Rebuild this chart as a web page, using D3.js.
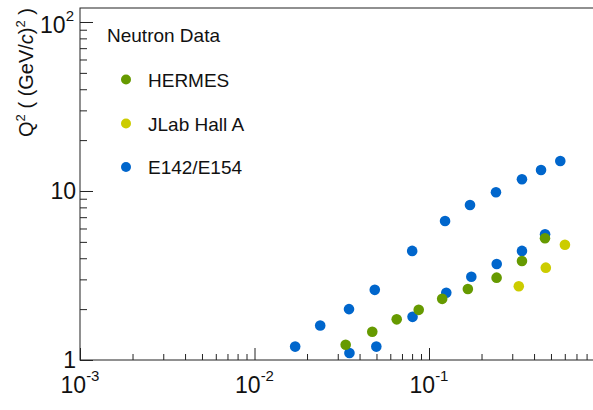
<!DOCTYPE html>
<html>
<head>
<meta charset="utf-8">
<script src="https://cdn.jsdelivr.net/npm/d3@7"></script>
<style>
  body { margin: 0; background: #fff; }
  svg { font-family: "Liberation Sans", Arial, sans-serif; }
</style>
</head>
<body>
<div id="chart"></div>
<script>
// series (x, Q^2)
var hermesX = [0.0333, 0.0473, 0.0653, 0.0873, 0.119, 0.167, 0.244, 0.341, 0.462];
var hermesY = [1.23, 1.47, 1.74, 1.98, 2.30, 2.63, 3.07, 3.85, 5.25];

var jlabX = [0.327, 0.467, 0.601];
var jlabY = [2.73, 3.52, 4.81];

var e142X = [0.0171, 0.0238, 0.0348, 0.0489, 0.0801, 0.1236, 0.1718, 0.242, 0.341, 0.4385, 0.5655,
             0.0350, 0.0499, 0.0805, 0.1256, 0.1748, 0.2444, 0.341, 0.4624];
var e142Y = [1.20, 1.60, 2.00, 2.60, 4.42, 6.65, 8.26, 9.83, 11.73, 13.31, 15.05,
             1.10, 1.20, 1.80, 2.50, 3.11, 3.70, 4.42, 5.54];

var seriesNames = ["HERMES", "JLab Hall A", "E142/E154"];
var seriesColors = ["#669a00", "#cccc00", "#0066cc"];

var xTickExp = [-3, -2, -1];
var yTickLabels = [["1", ""], ["10", ""], ["10", "2"]];

var W = 593, H = 410;

var svg = d3.select('#chart').append('svg')
    .attr('width', W)
    .attr('height', H);

var x = d3.scaleLog().domain([1e-3, 1]).range([80, 603.5]);
var y = d3.scaleLog().domain([1, 121]).range([360, 8]);

// frame
svg.append('rect')
    .attr('x', 80).attr('y', 8)
    .attr('width', 523.5).attr('height', 352)
    .style('fill', 'none')
    .style('stroke', '#222')
    .style('stroke-width', 1);

// x axis ticks (inside)
var xAxis = svg.append('g')
    .attr('transform', 'translate(0,360)')
    .call(d3.axisBottom(x).tickValues(x.ticks()).tickSize(-6).tickFormat(''));
xAxis.select('.domain').remove();
xAxis.selectAll('.tick line')
    .attr('y2', function(d) { return Math.abs(Math.log10(d) % 1) < 1e-9 ? -12 : -6; })
    .style('stroke', '#222');

// y axis ticks (inside)
var yAxis = svg.append('g')
    .attr('transform', 'translate(80,0)')
    .call(d3.axisLeft(y).tickValues(y.ticks()).tickSize(-7).tickFormat(''));
yAxis.select('.domain').remove();
yAxis.selectAll('.tick line')
    .attr('x2', function(d) { return Math.abs(Math.log10(d) % 1) < 1e-9 ? 13 : 7; })
    .style('stroke', '#222');

// x tick labels 10^n
xTickExp.forEach(function(e) {
    var t = svg.append('text')
        .attr('x', x(Math.pow(10, e)))
        .attr('y', 393)
        .attr('text-anchor', 'middle')
        .style('font-size', '23px')
        .style('fill', '#111');
    t.append('tspan').text('10');
    t.append('tspan')
        .attr('dy', -12)
        .style('font-size', '15px')
        .text('-' + Math.abs(e));
});

// y tick labels
yTickLabels.forEach(function(l, i) {
    var v = Math.pow(10, i);
    var t = svg.append('text')
        .attr('x', l[1] ? 74 : 76)
        .attr('y', y(v) + 8)
        .attr('text-anchor', 'end')
        .style('font-size', '23px')
        .style('fill', '#111');
    t.append('tspan').text(l[0]);
    if (l[1]) {
        t.attr('y', y(v) + 11);
        t.append('tspan')
            .attr('dy', -12)
            .style('font-size', '15px')
            .text(l[1]);
    }
});

// y axis title
var yt = svg.append('text')
    .attr('transform', 'translate(33,8) rotate(-90)')
    .attr('text-anchor', 'end')
    .style('font-size', '20px')
    .style('fill', '#111');
yt.append('tspan').text('Q');
yt.append('tspan').attr('dy', -8).style('font-size', '13px').text('2');
yt.append('tspan').attr('dy', 8).text(' ( (GeV/');
yt.append('tspan').style('font-style', 'italic').text('c');
yt.append('tspan').text(')');
yt.append('tspan').attr('dy', -8).style('font-size', '13px').text('2');
yt.append('tspan').attr('dy', 8).text(' )');

// points
function drawSeries(xs, ys, color) {
    svg.append('g').selectAll('circle')
        .data(xs.map(function(d, i) { return [d, ys[i]]; }))
        .enter().append('circle')
        .attr('cx', function(d) { return x(d[0]); })
        .attr('cy', function(d) { return y(d[1]); })
        .attr('r', 5.3)
        .style('fill', color);
}
drawSeries(e142X, e142Y, seriesColors[2]);
drawSeries(hermesX, hermesY, seriesColors[0]);
drawSeries(jlabX, jlabY, seriesColors[1]);

// legend
svg.append('text')
    .attr('x', 107).attr('y', 42)
    .style('font-size', '19px')
    .style('fill', '#111')
    .text('Neutron Data');

var legendY = [79.5, 123.5, 167];
seriesNames.forEach(function(name, i) {
    svg.append('circle')
        .attr('cx', 126).attr('cy', legendY[i])
        .attr('r', 5)
        .style('fill', seriesColors[i]);
    svg.append('text')
        .attr('x', 148).attr('y', legendY[i] + 7)
        .style('font-size', '19px')
        .style('fill', '#111')
        .text(name);
});
</script>
</body>
</html>
